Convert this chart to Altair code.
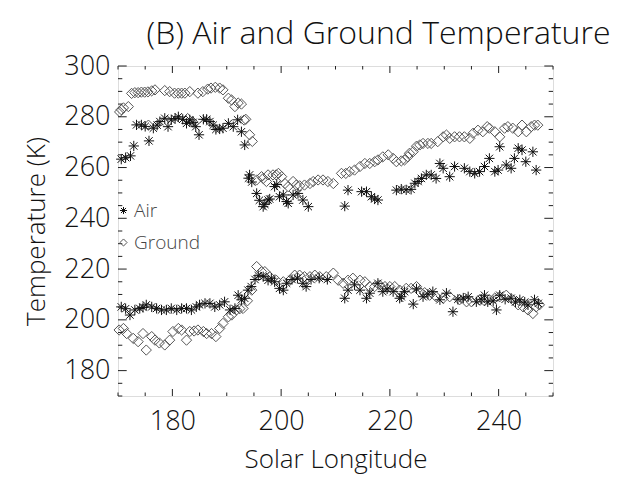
import altair as alt
import pandas as pd

# ---- data (Solar Longitude, Temperature K) ----
air_max_ls = [170.6,171.4,172.3,172.9,173.4,174.3,175.0,175.7,176.5,177.2,177.7,178.6,179.2,179.8,180.5,181.1,181.9,182.6,183.2,183.8,184.3,184.9,185.7,186.3,186.9,187.5,188.0,188.7,189.3,190.3,191.2,192.0,192.7,193.3,
              194.0,194.2,194.6,195.5,196.0,196.7,197.0,197.6,197.9,198.8,199.2,199.7,200.4,201.0,201.3,202.2,203.1,204.0,205.0,211.7,212.3,214.8,215.7,216.6,217.2,217.8,221.2,222.1,223.0,223.9,224.6,225.2,225.8,226.7,227.6,228.5,229.2,229.8,231.0,231.9,233.7,234.7,235.6,236.5,237.4,238.3,239.3,239.9,240.2,241.4,242.3,242.9,243.6,244.3,245.0,246.3,246.9]
air_max_t = [263.3,263.9,264.6,268.5,276.8,276.8,276.2,270.5,275.5,276.7,278.1,279.4,276.1,278.8,279.3,280.0,279.0,277.4,278.8,277.8,276.1,272.9,279.0,279.0,278.1,276.7,275.0,275.2,275.5,277.4,276.1,278.8,274.1,268.9,
             255.8,257.1,254.3,249.8,247.1,244.6,245.5,247.2,247.6,252.5,253.3,248.5,249.2,246.6,245.9,249.2,249.8,247.2,244.6,244.8,251.1,250.5,250.5,248.5,247.6,247.2,251.1,251.5,251.2,251.4,253.8,254.5,255.7,257.1,257.1,255.7,261.6,259.7,256.4,260.4,259.7,258.4,257.7,258.4,260.4,263.6,258.4,259.0,268.2,261.0,259.7,263.6,267.6,266.9,262.3,266.2,259.0]

ground_max_ls = [170.3,170.6,171.0,171.9,172.5,173.1,173.7,174.3,174.9,175.5,175.6,176.2,176.8,178.6,179.5,180.4,181.1,181.7,182.3,182.8,183.2,183.7,184.7,185.6,186.5,187.1,187.9,188.7,189.3,190.3,190.9,191.5,192.1,192.7,193.2,193.5,194.2,194.7,
                 195.5,196.4,196.7,197.3,197.6,198.5,199.1,199.5,200.1,200.7,201.3,202.2,202.8,203.4,204.3,205.3,205.9,206.8,207.7,208.6,209.6,211.1,211.9,212.6,213.5,214.5,215.4,216.3,217.2,217.8,218.7,219.7,220.6,221.2,222.1,222.7,223.3,223.6,224.3,224.9,225.5,226.1,227.0,227.6,228.8,229.8,230.4,231.0,231.9,232.8,233.7,234.7,235.3,236.2,237.1,237.9,238.3,239.3,240.2,241.1,241.7,242.6,243.6,244.3,245.1,246.0,246.6,247.2]
ground_max_t = [281.9,282.8,283.5,284.0,289.2,289.5,289.5,289.7,289.7,289.8,276.7,290.2,290.6,290.3,289.9,289.3,289.3,289.3,289.3,279.3,289.9,278.1,289.3,289.9,290.9,291.3,291.6,291.3,290.6,287.3,286.6,284.0,285.4,285.0,278.7,279.0,272.9,270.3,
                255.1,256.4,255.7,254.5,257.1,257.1,257.1,257.7,256.4,253.7,252.5,254.5,253.1,252.8,253.1,253.7,254.5,255.1,255.1,254.5,253.7,257.7,257.7,258.4,259.0,260.4,261.6,261.6,262.3,263.0,264.2,265.0,263.6,262.3,262.6,263.0,264.2,265.6,266.3,268.4,268.9,269.5,269.5,269.5,270.2,272.1,272.8,271.5,272.1,272.1,272.1,271.5,273.5,274.7,274.1,276.1,275.5,274.1,272.1,275.5,276.1,275.5,274.1,276.7,274.1,276.1,276.7,276.7]

air_min_ls = [170.6,171.4,172.2,173.1,174.0,174.6,175.2,176.2,177.1,178.0,178.9,179.8,180.8,181.7,182.6,183.5,184.4,185.0,186.0,186.9,187.8,188.7,189.6,190.6,191.5,192.1,192.7,193.3,193.9,194.5,195.2,195.8,196.7,197.6,198.2,198.8,199.7,200.4,201.0,202.0,203.0,204.0,204.6,205.5,207.0,208.5,
              211.7,212.3,213.5,214.5,215.7,216.3,217.8,218.7,219.5,220.6,221.8,222.1,222.7,224.3,224.9,226.1,227.0,227.9,229.2,230.4,231.6,232.5,233.5,234.4,235.9,236.8,237.4,238.0,239.0,239.6,240.2,241.2,242.3,243.1,243.9,244.8,245.4,246.6,247.3]
air_min_t = [205.1,204.4,201.9,203.9,204.5,204.9,205.9,205.1,204.5,203.9,203.9,204.5,203.9,204.5,204.5,203.9,205.1,205.9,206.5,206.5,205.1,205.9,207.1,203.9,204.5,209.7,207.9,208.5,211.7,213.1,215.9,217.4,217.0,215.6,216.4,215.0,212.4,211.7,214.4,215.9,216.4,214.4,213.1,215.9,216.4,215.9,
             208.5,211.7,213.8,211.7,208.5,210.5,214.4,211.1,212.2,211.1,208.5,209.1,211.1,206.2,212.2,209.1,210.1,211.1,207.9,210.5,203.2,208.1,208.6,209.1,207.1,208.1,209.7,207.1,207.5,203.9,209.7,208.1,208.5,207.0,207.9,207.0,205.9,207.9,206.5]

ground_min_ls = [170.2,171.0,171.6,172.8,173.7,174.6,175.2,176.2,176.8,177.6,178.6,179.5,180.1,181.1,181.7,182.6,183.2,184.0,184.7,185.7,186.3,187.2,188.0,188.7,189.3,190.3,190.9,191.8,192.4,193.0,193.8,194.6,
                 195.5,196.4,197.0,197.9,199.1,200.4,201.6,202.5,203.4,204.3,205.3,206.2,207.1,208.3,209.6,210.5,211.4,212.3,213.2,214.5,215.4,216.3,217.2,218.1,219.1,220.0,220.9,221.8,223.0,223.9,224.9,225.5,226.4,227.3,228.5,229.8,231.0,232.8,234.1,235.0,236.5,237.4,238.3,239.3,240.2,241.4,242.6,243.6,244.5,245.4,246.3,246.9,247.5]
ground_min_t = [196.0,196.6,194.6,192.7,191.4,194.6,188.1,193.4,192.0,190.9,190.1,192.0,195.4,196.6,196.0,192.0,195.4,195.6,196.0,195.4,194.6,194.6,193.4,196.6,198.6,201.2,201.9,203.9,204.4,204.5,207.5,211.7,
                221.0,219.0,219.0,217.0,215.6,215.0,215.6,217.6,217.6,217.0,217.0,217.6,217.0,217.0,218.4,215.6,214.4,215.6,216.4,215.6,215.0,213.1,213.1,213.7,213.1,213.1,213.1,211.7,212.4,212.4,213.1,211.1,210.7,209.7,209.1,208.5,209.1,207.9,207.1,207.1,207.9,207.5,207.9,208.6,209.1,209.7,207.9,205.9,205.1,203.9,202.5,205.1,205.9]

series_names = ["Air", "Ground"]

# tick positions
y_major = [180, 200, 220, 240, 260, 280, 300]
y_minor = [170, 175, 185, 190, 195, 205, 210, 215, 225, 230, 235, 245, 250, 255, 265, 270, 275, 285, 290, 295]
x_major = [180, 200, 220, 240]
x_minor = [170, 175, 185, 190, 195, 205, 210, 215, 225, 230, 235, 245, 250]

rows = []
for ls, t in zip(ground_max_ls, ground_max_t):
    rows.append({"Ls": ls, "T": t, "series": "Ground"})
for ls, t in zip(ground_min_ls, ground_min_t):
    rows.append({"Ls": ls, "T": t, "series": "Ground"})
for ls, t in zip(air_max_ls, air_max_t):
    rows.append({"Ls": ls, "T": t, "series": "Air"})
for ls, t in zip(air_min_ls, air_min_t):
    rows.append({"Ls": ls, "T": t, "series": "Air"})
df = pd.DataFrame(rows)

W, H = 435, 330
LEFT, TOP = 118, 66
FONT = "Open Sans"
FW = 300
xs = alt.Scale(domain=[170, 250], nice=False, zero=False)
ys = alt.Scale(domain=[170, 300], nice=False, zero=False)

ASTER = "M-1,0L1,0M0,-1L0,1M-0.72,-0.72L0.72,0.72M-0.72,0.72L0.72,-0.72"

xaxis = alt.Axis(values=x_major, title="Solar Longitude", ticks=False, tickSize=0,
                 domain=False, grid=False, labelFontSize=27, titleFontSize=26,
                 labelPadding=12, titlePadding=12, labelFont=FONT, titleFont=FONT,
                 labelColor="#111", titleColor="#111", titleFontWeight=FW, labelFontWeight=FW,
                 labelFlush=False)
yaxis = alt.Axis(values=y_major, title="Temperature (K)", ticks=False, tickSize=0,
                 domain=False, grid=False, labelFontSize=27, titleFontSize=26,
                 labelPadding=8, titlePadding=14, labelFont=FONT, titleFont=FONT,
                 labelColor="#111", titleColor="#111", titleFontWeight=FW, labelFontWeight=FW,
                 labelFlush=False)

leg = alt.Legend(title=None, orient="none", legendX=-4, legendY=135, symbolSize=50,
                 symbolStrokeWidth=1, labelFontSize=19, labelFont=FONT, labelColor="#444",
                 labelFontWeight=FW, rowPadding=12, padding=0, labelOffset=1, symbolType=ASTER)

points = alt.Chart(df).mark_point(filled=False, strokeWidth=1, opacity=1, size=105).encode(
    x=alt.X("Ls:Q", scale=xs, axis=xaxis),
    y=alt.Y("T:Q", scale=ys, axis=yaxis),
    shape=alt.Shape("series:N", scale=alt.Scale(domain=series_names, range=[ASTER, "diamond"]), legend=leg),
    color=alt.Color("series:N", scale=alt.Scale(domain=series_names, range=["#111111", "#555555"]), legend=leg),
)

TC = "#222"
ymaj_df = pd.DataFrame({"T": y_major})
ymin_df = pd.DataFrame({"T": y_minor})
xmaj_df = pd.DataFrame({"Ls": x_major})
xmin_df = pd.DataFrame({"Ls": x_minor})

def yt(d, x0, x1):
    return alt.Chart(d).mark_rule(color=TC, strokeWidth=1).encode(
        y=alt.Y("T:Q", scale=ys, axis=yaxis), x=alt.value(x0), x2=alt.value(x1))

def xt(d, y0, y1):
    return alt.Chart(d).mark_rule(color=TC, strokeWidth=1).encode(
        x=alt.X("Ls:Q", scale=xs, axis=xaxis), y=alt.value(y0), y2=alt.value(y1))

ticks = [
    yt(ymaj_df, 0, 8.7), yt(ymin_df, 0, 4.3), yt(ymaj_df, W - 8.7, W), yt(ymin_df, W - 4.3, W),
    xt(xmaj_df, H - 7, H), xt(xmin_df, H - 3.5, H), xt(xmaj_df, 0, 7), xt(xmin_df, 0, 3.5),
]

chart = alt.layer(points, *ticks).properties(
    width=W, height=H,
    autosize=alt.AutoSizeParams(type="none"),
    padding={"left": LEFT, "top": TOP, "right": 622 - LEFT - W, "bottom": 479 - TOP - H},
    title=alt.TitleParams(text="(B) Air and Ground Temperature", fontSize=32, font=FONT,
                          fontWeight=FW, anchor="middle", offset=1, dx=43, color="#111"),
).configure_view(stroke="#222", strokeWidth=1).configure(background="white")

chart.save("out.html", embed_options={"renderer": "svg", "actions": False})
